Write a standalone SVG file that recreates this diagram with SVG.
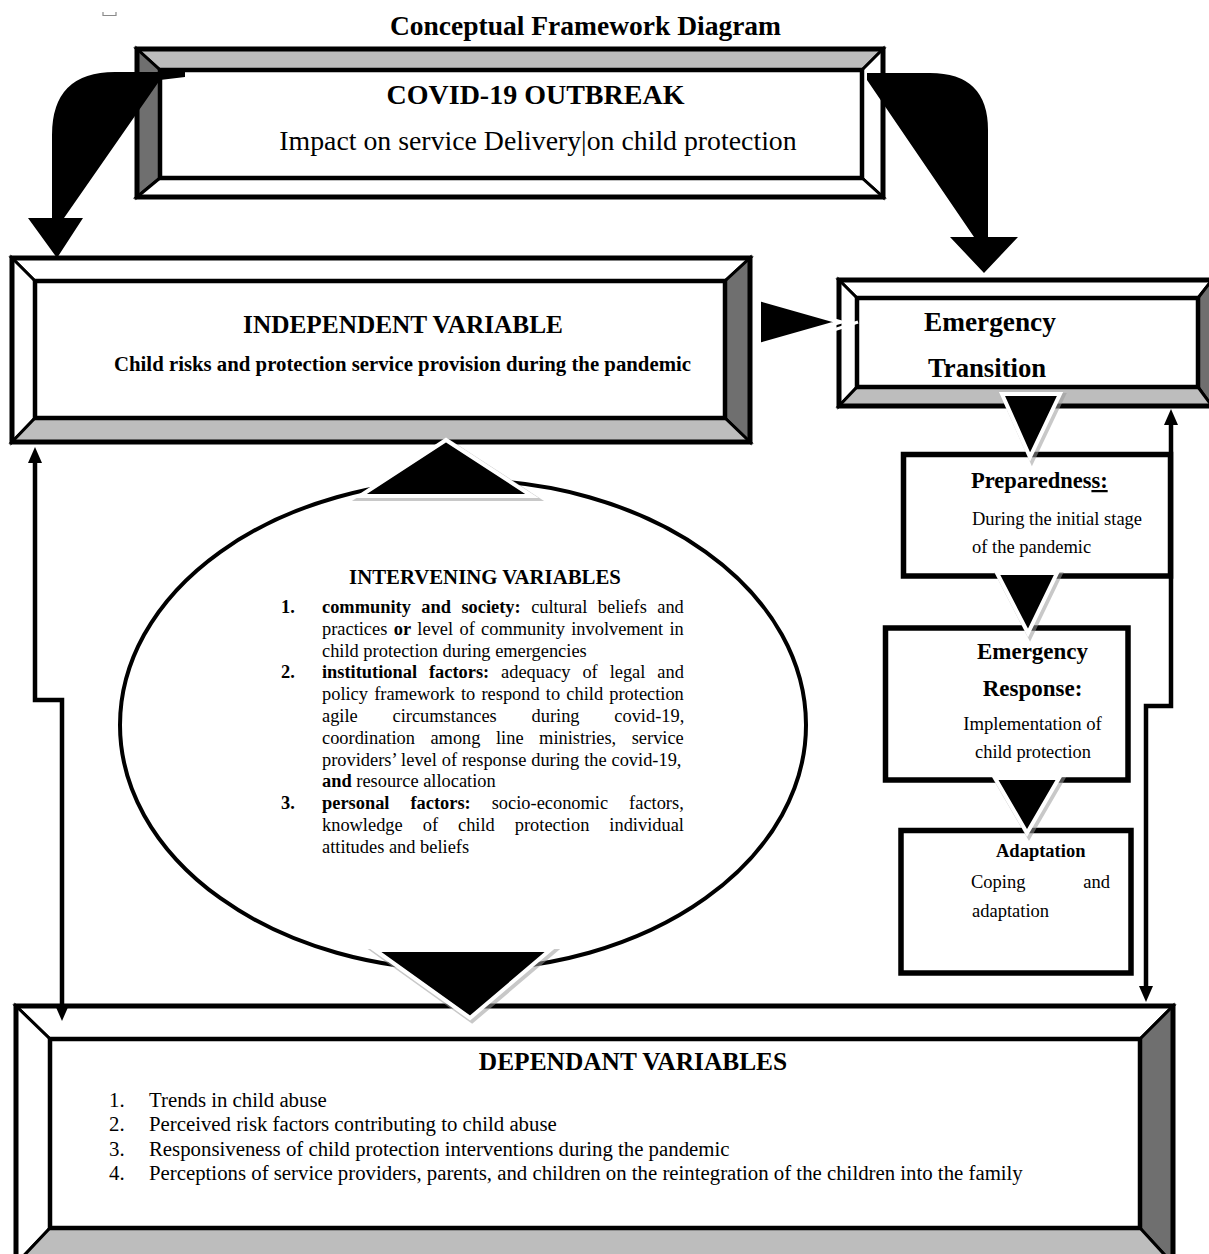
<svg xmlns="http://www.w3.org/2000/svg" width="1209" height="1254" viewBox="0 0 1209 1254">
<style>
.t{font-family:"Liberation Serif","Times New Roman",serif;fill:#000}
.b{font-weight:bold}
.bev{stroke:#000;stroke-width:3;stroke-linejoin:miter}
.ob{fill:none;stroke:#000;stroke-width:5}
.ib{fill:#fff;stroke:#000;stroke-width:4.5}
.box{fill:#fff;stroke:#000;stroke-width:5.5}
.lt{fill:#bdbdbd}
.dk{fill:#6f6f6f}
.wh{fill:#fff}
.tri{fill:#000;stroke:#fff;stroke-width:4;stroke-linejoin:miter}
.sh{fill:none;stroke:#9a9a9a;stroke-width:6;stroke-linejoin:miter;opacity:.55}
.con{fill:none;stroke:#000;stroke-width:4.5;stroke-linejoin:miter}
.big{fill:#000}
</style>
<defs>
<marker id="ah" viewBox="0 0 16 14" refX="1" refY="7" markerWidth="16" markerHeight="14" markerUnits="userSpaceOnUse" orient="auto-start-reverse">
<path d="M0,0 L16,7 L0,14 Z" fill="#000"/>
</marker>
</defs>
<rect width="1209" height="1254" fill="#fff"/>
<path d="M103,12 V15.5 H116 V12" fill="none" stroke="#8a8a8a" stroke-width="1.2"/>
<text class="t b" x="585.5" y="35" font-size="27.5" text-anchor="middle">Conceptual Framework Diagram</text>

<g id="covid-outbreak">
<polygon class="bev lt" points="137,49 883,49 862,70 160,70"/>
<polygon class="bev dk" points="137,49 160,70 160,178 137,197"/>
<polygon class="bev wh" points="883,49 883,197 862,178 862,70"/>
<polygon class="bev wh" points="137,197 160,178 862,178 883,197"/>
<rect class="ib" x="160" y="70" width="702" height="108"/>
<rect class="ob" x="137" y="49" width="746" height="148"/>
<text class="t b" x="535.5" y="104" font-size="28" text-anchor="middle">COVID-19 OUTBREAK</text>
<text class="t" x="538" y="150" font-size="27.8" text-anchor="middle">Impact on service Delivery|on child protection</text>
</g>

<g id="independent-variable">
<polygon class="bev wh" points="12,258 750,258 725,281 35,281"/>
<polygon class="bev wh" points="12,258 35,281 35,418 12,442"/>
<polygon class="bev dk" points="750,258 750,442 725,418 725,281"/>
<polygon class="bev lt" points="12,442 35,418 725,418 750,442"/>
<rect class="ib" x="35" y="281" width="690" height="137"/>
<rect class="ob" x="12" y="258" width="738" height="184"/>
<text class="t b" x="403" y="333" font-size="25.3" text-anchor="middle">INDEPENDENT VARIABLE</text>
<text class="t b" x="402.5" y="371" font-size="20.8" text-anchor="middle">Child risks and protection service provision during the pandemic</text>
</g>

<g id="emergency-transition">
<polygon class="bev wh" points="839,280 1212,280 1198,298 857,298"/>
<polygon class="bev wh" points="839,280 857,298 857,387 839,406"/>
<polygon class="bev dk" points="1212,280 1212,406 1198,387 1198,298"/>
<polygon class="bev lt" points="839,406 857,387 1198,387 1212,406"/>
<rect class="ib" x="857" y="298" width="341" height="89"/>
<rect class="ob" x="839" y="280" width="373" height="126"/>
<text class="t b" x="924" y="331" font-size="27.3">Emergency</text>
<text class="t b" x="928" y="377" font-size="26.7">Transition</text>
</g>

<g id="preparedness">
<rect class="box" x="903.5" y="454.5" width="267" height="121.5"/>
<text class="t b" x="971" y="488" font-size="22.5">Preparednes<tspan text-decoration="underline">s:</tspan></text>
<text class="t" x="972" y="525" font-size="18.5">During the initial stage</text>
<text class="t" x="972" y="553" font-size="18.5">of the pandemic</text>
</g>

<g id="emergency-response">
<rect class="box" x="885.5" y="628" width="242.5" height="152"/>
<text class="t b" x="1032.5" y="659" font-size="23" text-anchor="middle">Emergency</text>
<text class="t b" x="1032.5" y="696" font-size="23" text-anchor="middle">Response:</text>
<text class="t" x="1032.5" y="730" font-size="18.7" text-anchor="middle">Implementation of</text>
<text class="t" x="1033" y="758" font-size="18.4" text-anchor="middle">child protection</text>
</g>

<g id="adaptation">
<rect class="box" x="901" y="830.5" width="230" height="142.5"/>
<text class="t b" x="996" y="857" font-size="18.5">Adaptation</text>
<text class="t" x="971" y="888" font-size="18.5">Coping</text>
<text class="t" x="1110" y="888" font-size="18.5" text-anchor="end">and</text>
<text class="t" x="972" y="917" font-size="18.5">adaptation</text>
</g>

<g id="intervening-variables">
<ellipse cx="463" cy="725" rx="343" ry="245" fill="#fff" stroke="#000" stroke-width="4"/>
<text class="t b" x="485" y="584" font-size="20.8" text-anchor="middle">INTERVENING VARIABLES</text>
<g class="t" font-size="18.4">
<text class="b" x="281" y="613">1.</text>
<text x="322" y="613" word-spacing="5.86"><tspan class="b">community and society:</tspan> cultural beliefs and</text>
<text x="322" y="634.8" word-spacing="1.73">practices <tspan class="b">or</tspan> level of community involvement in</text>
<text x="322" y="656.6">child protection during emergencies</text>
<text class="b" x="281" y="678.4">2.</text>
<text x="322" y="678.4" word-spacing="7.3"><tspan class="b">institutional factors:</tspan> adequacy of legal and</text>
<text x="322" y="700.2" word-spacing="1.57">policy framework to respond to child protection</text>
<text x="322" y="722" word-spacing="30.2">agile circumstances during covid-19,</text>
<text x="322" y="743.8" word-spacing="10.9">coordination among line ministries, service</text>
<text x="322" y="765.6" word-spacing="0.3">providers’ level of response during the covid-19,</text>
<text x="322" y="787.4"><tspan class="b">and</tspan> resource allocation</text>
<text class="b" x="281" y="809.2">3.</text>
<text x="322" y="809.2" word-spacing="16.4"><tspan class="b">personal factors:</tspan> socio-economic factors,</text>
<text x="322" y="831" word-spacing="15.4">knowledge of child protection individual</text>
<text x="322" y="852.8">attitudes and beliefs</text>
</g>
</g>

<g id="dependent-variables">
<polygon class="bev wh" points="16,1006 1173,1006 1140,1039 50,1039"/>
<polygon class="bev wh" points="16,1006 50,1039 50,1228 16,1264"/>
<polygon class="bev dk" points="1173,1006 1173,1264 1140,1228 1140,1039"/>
<polygon class="bev lt" points="16,1264 50,1228 1140,1228 1173,1264"/>
<rect class="ib" x="50" y="1039" width="1090" height="189"/>
<rect class="ob" x="16" y="1006" width="1157" height="258"/>
<text class="t b" x="633" y="1070" font-size="25.4" text-anchor="middle">DEPENDANT VARIABLES</text>
<g class="t" font-size="20.8">
<text x="109" y="1107">1.</text><text x="149" y="1107">Trends in child abuse</text>
<text x="109" y="1131">2.</text><text x="149" y="1131">Perceived risk factors contributing to child abuse</text>
<text x="109" y="1156">3.</text><text x="149" y="1156">Responsiveness of child protection interventions during the pandemic</text>
<text x="109" y="1180">4.</text><text x="149" y="1180">Perceptions of service providers, parents, and children on the reintegration of the children into the family</text>
</g>
</g>

<g id="connectors">
<path class="big" d="M185,72 L115,72 Q52,72 52,135 L52,218 L28,218 L57,258 L83,218 L64,218 L160,80 L185,77 Z"/>
<path class="big" d="M867,73 L930,73 Q988,73 988,130 L988,237 L1018,237 L984,273 L950,237 L974,237 L867,80 Z"/>
<polyline class="con" points="35,462 35,700 62,700 62,1006" marker-start="url(#ah)" marker-end="url(#ah)"/>
<polyline class="con" points="1171,424 1171,706 1146,706 1146,987" marker-start="url(#ah)" marker-end="url(#ah)"/>
<polygon class="tri" points="759,299 759,345 840,322"/>
<line x1="755" y1="356" x2="858" y2="322" stroke="#fff" stroke-width="3"/>
<polygon class="sh" points="1004,396 1062,396 1032,459"/>
<polygon class="tri" points="1002,394 1060,394 1030,457"/>
<polygon class="sh" points="999,575 1059,575 1030,635"/>
<polygon class="tri" points="997,573 1057,573 1028,633"/>
<polygon class="sh" points="997,780 1061,780 1029,835"/>
<polygon class="tri" points="995,778 1059,778 1027,833"/>
<polygon class="sh" points="362,498 534,498 448,442"/>
<polygon class="tri" points="360,496 532,496 446,440"/>
<polygon class="sh" points="377,952 552,952 472,1020"/>
<polygon class="tri" points="375,950 550,950 470,1018"/>
</g>
</svg>
